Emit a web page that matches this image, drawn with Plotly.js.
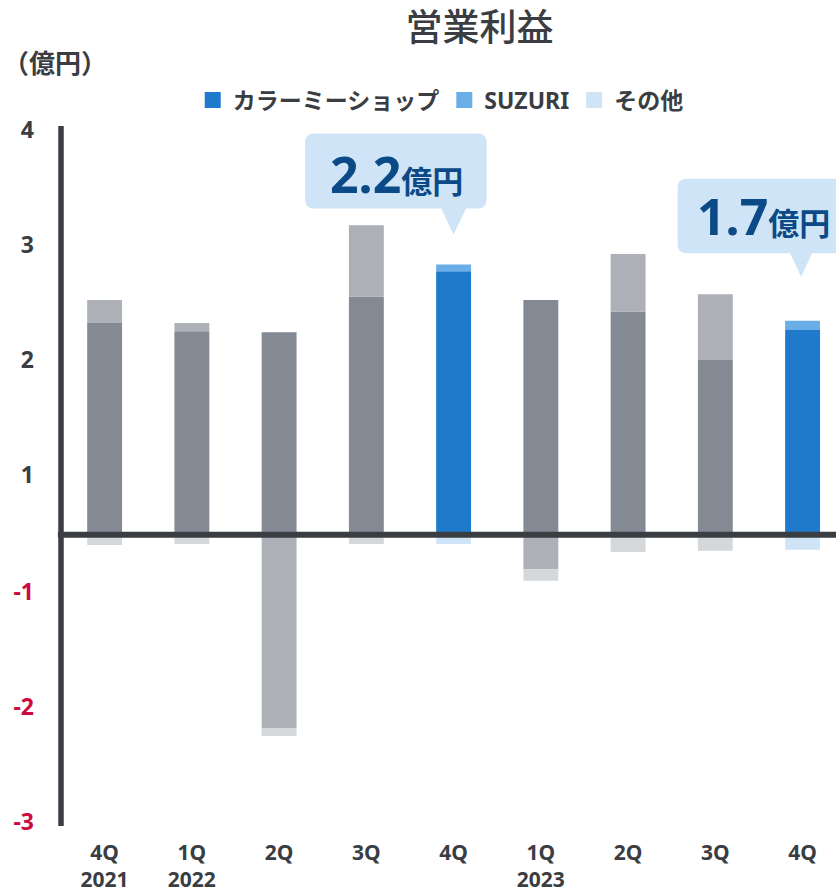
<!DOCTYPE html>
<html><head><meta charset="utf-8">
<script src="https://cdn.plot.ly/plotly-3.0.1.min.js"></script>
<style>html,body{margin:0;padding:0;background:#fff}#chart{width:836px;height:895px}</style>
</head><body><div id="chart"></div>
<script>
// ---- data (億円) ----
const quarters = ["4Q<br>2021","1Q<br>2022","2Q","3Q","4Q","1Q<br>2023","2Q","3Q","4Q"];
const seriesNames = ["カラーミーショップ","SUZURI","その他"];
const colorMe = [1.84, 1.77, 1.76, 2.07, 2.29, 2.04, 1.94, 1.52, 1.78];
const suzuri  = [0.20, 0.07, -1.68, 0.62, 0.06, -0.30, 0.50, 0.57, 0.08];
const others  = [-0.09, -0.08, -0.07, -0.08, -0.08, -0.10, -0.15, -0.14, -0.13];
const highlighted = [false, false, false, false, true, false, false, false, true];
const yTickVals = [-2.5, -1.5, -0.5, 0.52, 1.52, 2.52, 3.52];
const yTickText = ["-3", "-2", "-1", "1", "2", "3", "4"];
const calloutIndex = [4, 8];
const calloutLabels = ["2.2", "1.7"];
const calloutUnit = "億円";
const unitLabel = "（億円）";
const chartTitle = "営業利益";

// ---- styles ----
const FONT = "Noto Sans, Noto Sans CJK JP, sans-serif";
const TEXT = "#3a3d42";
const NEG = "#cc0a3f";
const NAVY = "#0b4a86";
const blues = ["#1f7acc", "#6aaee8", "#cfe5f7"];
const grays = ["#838a93", "#adb0b7", "#d5d8db"];
// callout geometry in pixels, relative to bar top (positive = up)
const calloutGeom = [
  {tipX: 0, tipY: 30, base: 56, top: 131, left: -148.5, right: 33, half: 12.5, textDx: -57, textDy: 90},
  {tipX: -1.5, tipY: 44, base: 67.5, top: 142, left: -125, right: 60, half: 11, textDx: -39, textDy: 105}
];

const xs = quarters.map((_, i) => i);
const series = [colorMe, suzuri, others];

const traces = series.map((vals, s) => ({
  type: "bar", x: xs, y: vals, name: seriesNames[s], showlegend: false,
  marker: {color: highlighted.map(h => h ? blues[s] : grays[s]), line: {width: 0}},
  hoverinfo: "name+y"
}));
// legend entries (blue keys as in the reference)
seriesNames.forEach((n, s) => traces.push({
  type: "scatter", mode: "markers", x: [null], y: [null], name: n, showlegend: true,
  marker: {symbol: "square", size: 16, color: blues[s]}
}));

function calloutPath(g) {
  const r = 9, L = g.left, R = g.right, B = g.base, T = g.top;
  return `M${L + r},${T} H${R - r} Q${R},${T} ${R},${T - r} V${B + r} Q${R},${B} ${R - r},${B} ` +
         `H${g.tipX + g.half} L${g.tipX},${g.tipY} L${g.tipX - g.half},${B} H${L + r} ` +
         `Q${L},${B} ${L},${B + r} V${T - r} Q${L},${T} ${L + r},${T} Z`;
}

const shapes = [
  // vertical axis line
  {type: "line", xref: "paper", yref: "paper", x0: 0, x1: 0, y0: 0, y1: 1,
   line: {color: TEXT, width: 5.5}, layer: "above"},
  // zero line
  {type: "line", xref: "paper", yref: "y", x0: -0.004, x1: 1, y0: 0, y1: 0,
   line: {color: TEXT, width: 6}, layer: "above"}
];
const annotations = [
  {xref: "paper", yref: "paper", x: -0.078, y: 1.09, xanchor: "left", yanchor: "middle",
   text: "<b>" + unitLabel + "</b>", showarrow: false, font: {family: FONT, size: 26, color: TEXT}}
];
calloutIndex.forEach((idx, k) => {
  const topVal = colorMe[idx] + Math.max(suzuri[idx], 0) + Math.max(others[idx], 0);
  const g = calloutGeom[k];
  shapes.push({type: "path", xref: "x", yref: "y", xsizemode: "pixel", ysizemode: "pixel",
    xanchor: idx, yanchor: topVal, path: calloutPath(g), fillcolor: blues[2],
    line: {width: 0}, layer: "above"});
  annotations.push({xref: "x", yref: "y", x: idx, y: topVal, xshift: g.textDx, yshift: g.textDy,
    xanchor: "center", yanchor: "middle", showarrow: false,
    text: `<b>${calloutLabels[k]}</b><b><span style="font-size:31px">${calloutUnit}</span></b>`,
    font: {family: FONT, size: 50, color: NAVY}});
});

const layout = {
  width: 836, height: 895,
  margin: {l: 61, r: 0, t: 126, b: 69},
  paper_bgcolor: "#fff", plot_bgcolor: "#fff",
  font: {family: FONT, color: TEXT},
  barmode: "relative", bargap: 0.6,
  title: {text: chartTitle, font: {family: FONT, size: 37, color: TEXT, weight: 500},
          x: 0.5736, xanchor: "center", xref: "container", y: 0.9687, yanchor: "middle", yref: "container"},
  showlegend: true,
  legend: {orientation: "h", x: 0.49, xanchor: "center", y: 1.037, yanchor: "middle",
           font: {family: FONT, size: 23, color: TEXT, weight: 700}, itemclick: false, itemdoubleclick: false},
  xaxis: {range: [-0.5, 8.383], tickvals: xs, ticktext: quarters, showgrid: false, zeroline: false,
          showline: false, ticks: "", ticklabelstandoff: 12,
          tickfont: {family: FONT, size: 21, color: TEXT, weight: 700}, fixedrange: true},
  yaxis: {range: [-2.533, 3.554], tickvals: yTickVals,
          ticktext: yTickText.map(t => t.startsWith("-") ? `<span style="color:${NEG}">${t}</span>` : t),
          showgrid: false, zeroline: false, showline: false, ticks: "", ticklabelstandoff: 26,
          tickfont: {family: FONT, size: 23, color: TEXT, weight: 700}, fixedrange: true},
  shapes: shapes, annotations: annotations
};

Plotly.newPlot("chart", traces, layout, {displayModeBar: false, staticPlot: true});
</script>
</body></html>
